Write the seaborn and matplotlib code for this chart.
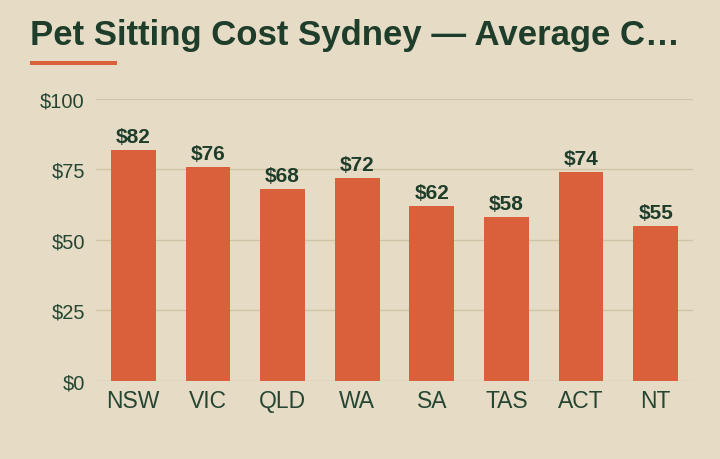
import matplotlib
matplotlib.use("Agg")
import matplotlib.pyplot as plt
import seaborn as sns
import pandas as pd
from matplotlib.patches import Rectangle

states = ["NSW", "VIC", "QLD", "WA", "SA", "TAS", "ACT", "NT"]
costs = [82, 76, 68, 72, 62, 58, 74, 55]
y_ticks = [0, 25, 50, 75, 100]

bg = "#E6DCC5"
bar_color = "#D9603B"
ink = "#1F3D2B"
grid_color = "#D0C4A8"

sns.set_theme(style="white")
plt.rcParams["font.family"] = ["Liberation Sans", "DejaVu Sans"]

df = pd.DataFrame({"state": states, "cost": costs})

fig = plt.figure(figsize=(7.2, 4.6), dpi=100, facecolor=bg)
ax = fig.add_axes([0.1333, 0.1696, 0.8292, 0.613])
ax.set_facecolor(bg)

sns.barplot(data=df, x="state", y="cost", color=bar_color, saturation=1,
            width=0.6, linewidth=0, ax=ax, zorder=3)

ax.set_ylim(0, 100)
ax.set_xlim(-0.5, 7.5)
ax.set_yticks(y_ticks)
ax.set_yticklabels([f"${v}" for v in y_ticks])
ax.set_xlabel("")
ax.set_ylabel("")
ax.grid(axis="y", color=grid_color, linewidth=1, zorder=0)
ax.grid(axis="x", visible=False)
for s in ax.spines.values():
    s.set_visible(False)
ax.tick_params(axis="y", length=0, pad=8, labelsize=14.5, labelcolor="#264634")
ax.tick_params(axis="x", length=0, pad=6, labelsize=16.5, labelcolor="#264634")

for i, v in enumerate(costs):
    ax.annotate(f"${v}", (i, v), xytext=(0, 3), textcoords="offset points",
                ha="center", va="bottom", fontsize=15, fontweight="bold",
                color=ink)

fig.text(30 / 720, 1 - 36 / 460, "Pet Sitting Cost Sydney \u2014 Average C\u2026",
         fontsize=25, fontweight="bold", color=ink, va="center", ha="left",
         family=["Liberation Sans Narrow", "Liberation Sans", "DejaVu Sans"])
fig.patches.append(Rectangle((30 / 720, 1 - 66 / 460), 87 / 720, 4 / 460,
                             transform=fig.transFigure, color=bar_color,
                             linewidth=0))

fig.savefig("out.png", dpi=100, facecolor=bg)
